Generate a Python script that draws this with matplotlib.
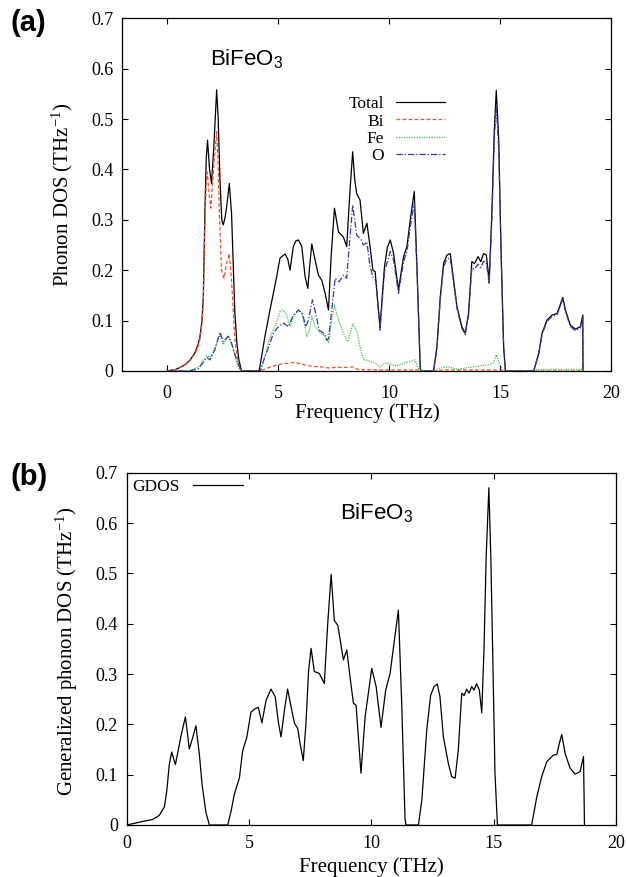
import matplotlib
matplotlib.use("Agg")
import matplotlib.pyplot as plt

# ---------------------------------------------------------------- data
# (a) projected phonon DOS of BiFeO3: frequency (THz) / DOS (1/THz)
total_f = [0.0, 0.4, 0.81, 1.05, 1.26, 1.4, 1.49, 1.58, 1.64, 1.71, 1.77, 1.83, 1.92, 2.01,
           2.12, 2.24, 2.31, 2.39, 2.47, 2.54, 2.62, 2.69, 2.81, 2.91, 2.98, 3.06, 3.15, 3.24,
           3.36, 4.15, 4.26, 4.41, 4.64, 4.79, 4.94, 5.09, 5.2, 5.32, 5.44, 5.54, 5.69, 5.8,
           5.92, 6.07, 6.22, 6.34, 6.43, 6.52, 6.67, 6.82, 6.97, 7.12, 7.27, 7.39, 7.54, 7.72,
           7.94, 8.09, 8.24, 8.36, 8.45, 8.54, 8.69, 8.84, 9.0, 9.14, 9.27, 9.37, 9.48, 9.59,
           9.79, 9.92, 10.05, 10.2, 10.42, 10.65, 10.8, 10.95, 11.13, 11.25, 11.4, 11.45, 12.0,
           12.15, 12.3, 12.45, 12.6, 12.75, 12.9, 13.05, 13.27, 13.42, 13.57, 13.72, 13.84,
           14.0, 14.12, 14.25, 14.37, 14.5, 14.62, 14.73, 14.82, 14.93, 15.03, 15.15, 15.23,
           16.5, 16.73, 16.88, 17.1, 17.33, 17.55, 17.67, 17.81, 17.93, 18.15, 18.38, 18.6,
           18.71, 18.72]
total_dos = [0.0, 0.003, 0.012, 0.022, 0.036, 0.052, 0.068, 0.1, 0.147, 0.313, 0.42, 0.458,
             0.40, 0.372, 0.45, 0.558, 0.50, 0.379, 0.30, 0.29, 0.305, 0.326, 0.372, 0.313,
             0.22, 0.115, 0.055, 0.022, 0.0, 0.0, 0.028, 0.068, 0.121, 0.154, 0.187, 0.224,
             0.228, 0.232, 0.222, 0.2, 0.247, 0.258, 0.26, 0.247, 0.187, 0.164, 0.21, 0.252,
             0.22, 0.19, 0.18, 0.154, 0.121, 0.227, 0.323, 0.276, 0.266, 0.247, 0.359, 0.435,
             0.38, 0.352, 0.339, 0.273, 0.293, 0.247, 0.2, 0.197, 0.14, 0.088, 0.207, 0.245,
             0.26, 0.233, 0.161, 0.227, 0.247, 0.3, 0.356, 0.207, 0.005, 0.0, 0.0, 0.048, 0.147,
             0.214, 0.23, 0.233, 0.18, 0.128, 0.088, 0.075, 0.114, 0.217, 0.213, 0.227, 0.217,
             0.233, 0.23, 0.18, 0.313, 0.478, 0.557, 0.458, 0.247, 0.048, 0.0, 0.0, 0.035,
             0.075, 0.101, 0.111, 0.114, 0.128, 0.146, 0.121, 0.091, 0.083, 0.088, 0.111, 0.0]

bi_f = [0.0, 0.4, 0.81, 1.05, 1.26, 1.4, 1.49, 1.58, 1.64, 1.71, 1.77, 1.82, 1.9, 1.98, 2.1,
        2.24, 2.3, 2.36, 2.46, 2.57, 2.69, 2.81, 2.91, 3.06, 3.24, 3.36, 4.2, 4.71, 5.17, 5.77,
        6.22, 6.52, 6.97, 7.27, 7.6, 8.0, 8.39, 8.6, 9.5, 11.3, 11.4, 12.0, 12.5, 15.0, 15.2,
        16.5, 18.72]
bi_dos = [0.0, 0.003, 0.012, 0.021, 0.034, 0.048, 0.063, 0.093, 0.135, 0.29, 0.37, 0.395,
          0.35, 0.323, 0.40, 0.475, 0.42, 0.313, 0.2, 0.184, 0.214, 0.233, 0.18, 0.061, 0.007,
          0.0, 0.0, 0.009, 0.014, 0.017, 0.012, 0.009, 0.008, 0.006, 0.007, 0.007, 0.008,
          0.003, 0.002, 0.002, 0.0, 0.0, 0.002, 0.002, 0.0, 0.0, 0.0]

fe_f = [0.0, 1.0, 1.41, 1.64, 1.79, 1.94, 2.09, 2.24, 2.39, 2.54, 2.69, 2.81, 2.99, 3.21,
        3.36, 4.2, 4.41, 4.56, 4.71, 4.94, 5.09, 5.24, 5.39, 5.54, 5.69, 5.92, 6.07, 6.22,
        6.29, 6.41, 6.52, 6.67, 6.9, 7.12, 7.27, 7.42, 7.54, 7.72, 7.94, 8.14, 8.36, 8.54,
        8.69, 8.84, 9.14, 9.37, 9.59, 9.82, 10.05, 10.35, 10.65, 10.95, 11.15, 11.33, 11.45,
        12.05, 12.23, 12.68, 13.12, 13.57, 14.03, 14.48, 14.7, 14.82, 14.96, 15.1, 16.5,
        16.8, 18.7, 18.72]
fe_dos = [0.0, 0.001, 0.007, 0.022, 0.03, 0.027, 0.038, 0.055, 0.071, 0.052, 0.065, 0.068,
          0.042, 0.007, 0.0, 0.0, 0.028, 0.055, 0.075, 0.095, 0.118, 0.121, 0.111, 0.088,
          0.108, 0.121, 0.114, 0.088, 0.068, 0.081, 0.108, 0.088, 0.075, 0.071, 0.055, 0.101,
          0.131, 0.101, 0.075, 0.058, 0.093, 0.081, 0.048, 0.023, 0.019, 0.016, 0.008, 0.016,
          0.013, 0.01, 0.016, 0.019, 0.022, 0.003, 0.0, 0.0, 0.005, 0.008, 0.003, 0.007, 0.01,
          0.012, 0.017, 0.032, 0.015, 0.0, 0.0, 0.003, 0.003, 0.0]

o_f = [0.0, 1.0, 1.41, 1.64, 1.79, 1.94, 2.16, 2.39, 2.54, 2.76, 2.91, 3.14, 3.36, 4.2, 4.41,
       4.64, 4.79, 5.02, 5.24, 5.47, 5.69, 5.92, 6.1, 6.25, 6.37, 6.55, 6.7, 6.85, 7.05, 7.2,
       7.27, 7.42, 7.57, 7.75, 7.94, 8.09, 8.24, 8.36, 8.54, 8.74, 8.84, 9.0, 9.14, 9.29, 9.4,
       9.59, 9.79, 10.05, 10.2, 10.42, 10.65, 10.8, 10.95, 11.13, 11.25, 11.4, 11.45, 12.0,
       12.15, 12.3, 12.45, 12.6, 12.75, 12.9, 13.05, 13.27, 13.42, 13.57, 13.72, 13.84, 14.0,
       14.12, 14.25, 14.37, 14.5, 14.62, 14.73, 14.82, 14.93, 15.03, 15.15, 15.23, 16.5,
       16.73, 16.88, 17.1, 17.33, 17.55, 17.67, 17.81, 17.93, 18.15, 18.38, 18.6, 18.71, 18.72]
o_dos = [0.0, 0.0, 0.004, 0.017, 0.027, 0.022, 0.042, 0.077, 0.058, 0.069, 0.055, 0.022, 0.0,
         0.0, 0.028, 0.055, 0.075, 0.088, 0.095, 0.088, 0.111, 0.121, 0.114, 0.088, 0.101,
         0.141, 0.114, 0.081, 0.075, 0.061, 0.064, 0.121, 0.184, 0.177, 0.19, 0.184, 0.266,
         0.329, 0.27, 0.26, 0.25, 0.256, 0.207, 0.184, 0.18, 0.081, 0.197, 0.237, 0.22, 0.154,
         0.217, 0.237, 0.286, 0.333, 0.2, 0.004, 0.0, 0.0, 0.045, 0.142, 0.207, 0.222, 0.224,
         0.175, 0.124, 0.085, 0.072, 0.11, 0.205, 0.202, 0.212, 0.205, 0.218, 0.215, 0.172,
         0.30, 0.46, 0.524, 0.44, 0.24, 0.046, 0.0, 0.0, 0.034, 0.073, 0.098, 0.108, 0.111,
         0.125, 0.143, 0.118, 0.088, 0.08, 0.085, 0.108, 0.0]

# (b) neutron-weighted generalized phonon DOS
gdos_f = [0.0, 0.65, 1.06, 1.33, 1.54, 1.64, 1.74, 1.84, 1.99, 2.13, 2.22, 2.4, 2.56, 2.7,
          2.83, 2.97, 3.08, 3.24, 3.38, 4.13, 4.27, 4.4, 4.61, 4.74, 4.91, 5.08, 5.22, 5.38,
          5.53, 5.7, 5.9, 6.07, 6.21, 6.31, 6.45, 6.58, 6.72, 6.86, 6.99, 7.09, 7.22, 7.33,
          7.44, 7.54, 7.67, 7.88, 8.08, 8.22, 8.36, 8.49, 8.63, 8.72, 8.86, 9.0, 9.13, 9.27,
          9.38, 9.58, 9.75, 10.02, 10.2, 10.4, 10.59, 10.77, 10.95, 11.11, 11.25, 11.38, 11.42,
          11.93, 12.07, 12.27, 12.43, 12.57, 12.7, 12.81, 12.95, 13.15, 13.29, 13.43, 13.56,
          13.7, 13.8, 13.9, 14.0, 14.11, 14.2, 14.31, 14.42, 14.52, 14.61, 14.7, 14.81, 14.89,
          14.97, 15.06, 15.16, 16.56, 16.77, 16.97, 17.18, 17.45, 17.59, 17.69, 17.79, 17.93,
          18.13, 18.34, 18.54, 18.68, 18.72]
gdos = [0.0, 0.007, 0.011, 0.019, 0.036, 0.068, 0.12, 0.145, 0.12, 0.154, 0.177, 0.215, 0.151,
        0.174, 0.197, 0.141, 0.081, 0.025, 0.0, 0.0, 0.028, 0.061, 0.094, 0.147, 0.174, 0.224,
        0.23, 0.234, 0.203, 0.248, 0.27, 0.255, 0.202, 0.175, 0.228, 0.27, 0.235, 0.202,
        0.192, 0.162, 0.128, 0.202, 0.308, 0.351, 0.305, 0.301, 0.281, 0.4, 0.498, 0.406,
        0.397, 0.371, 0.328, 0.348, 0.295, 0.242, 0.238, 0.103, 0.215, 0.311, 0.275, 0.194,
        0.268, 0.301, 0.368, 0.427, 0.235, 0.013, 0.0, 0.0, 0.05, 0.189, 0.258, 0.275, 0.28,
        0.255, 0.175, 0.123, 0.096, 0.093, 0.149, 0.262, 0.257, 0.27, 0.262, 0.275, 0.268,
        0.281, 0.268, 0.223, 0.348, 0.533, 0.67, 0.533, 0.334, 0.103, 0.0, 0.0, 0.056, 0.096,
        0.126, 0.139, 0.14, 0.162, 0.18, 0.142, 0.113, 0.101, 0.106, 0.136, 0.0]

x_ticks = [0, 5, 10, 15, 20]
x_tick_labels = ["0", "5", "10", "15", "20"]
y_ticks = [0, 0.1, 0.2, 0.3, 0.4, 0.5, 0.6, 0.7]
y_tick_labels = ["0", "0.1", "0.2", "0.3", "0.4", "0.5", "0.6", "0.7"]

# ---------------------------------------------------------------- style
plt.rcParams["font.family"] = ["Liberation Serif", "DejaVu Serif"]
plt.rcParams["mathtext.fontset"] = "custom"
plt.rcParams["mathtext.rm"] = "Liberation Serif"
plt.rcParams["mathtext.it"] = "Liberation Serif:italic"
plt.rcParams["mathtext.sf"] = "Liberation Sans"

SANS = ["Liberation Sans", "DejaVu Sans"]
C_BI = "#f0502a"
C_FE = "#3cbf4a"
C_O = "#3538a8"

fig = plt.figure(figsize=(6.27, 8.77), dpi=100)
ax_a = fig.add_axes([0.1952, 0.577, 0.780, 0.4022])
ax_b = fig.add_axes([0.2021, 0.0593, 0.780, 0.4017])


def style_axes(ax, xlim, xpad, ypad):
    ax.set_xlim(*xlim)
    ax.set_ylim(0, 0.7)
    ax.set_xticks(x_ticks)
    ax.set_xticklabels(x_tick_labels)
    ax.set_yticks(y_ticks)
    ax.set_yticklabels(y_tick_labels)
    ax.tick_params(direction="in", top=True, right=True, length=4.5, width=0.8,
                   labelsize=13)
    ax.tick_params(axis="x", pad=xpad)
    ax.tick_params(axis="y", pad=ypad)
    for s in ax.spines.values():
        s.set_linewidth(0.9)


# ---------------------------------------------------------------- panel (a)
ax_a.plot(total_f, total_dos, color="black", lw=0.9, label="Total")
ax_a.plot(bi_f, bi_dos, color=C_BI, lw=0.9, ls=(0, (3, 1.8)), label="Bi")
ax_a.plot(fe_f, fe_dos, color=C_FE, lw=0.9, ls=(0, (1, 1)), label="Fe")
ax_a.plot(o_f, o_dos, color=C_O, lw=0.9, ls=(0, (5, 1.6, 1, 1.6)), label="O")
style_axes(ax_a, (-2, 20), xpad=10, ypad=6.5)
ax_a.set_xlabel("Frequency (THz)", fontsize=15)
ax_a.xaxis.set_label_coords(0.5, -0.092)
ax_a.set_ylabel("Phonon DOS (THz$^{-1}$)", fontsize=15)
ax_a.yaxis.set_label_coords(-0.097, 0.5)
ax_a.text(0.179, 0.8676, r"BiFeO$_\mathsf{3}$", transform=ax_a.transAxes,
          family=SANS, fontsize=16, va="baseline", ha="left")

# label first, sample line after it; rows are right-aligned by the legend itself
ax_a.legend(loc="upper right", bbox_to_anchor=(0.6596, 0.779), frameon=False,
            markerfirst=False, fontsize=12.5, handlelength=2.8, handletextpad=0.7,
            labelspacing=0.06, borderpad=0, borderaxespad=0)

# ---------------------------------------------------------------- panel (b)
ax_b.plot(gdos_f, gdos, color="black", lw=0.9, label="GDOS")
style_axes(ax_b, (0, 20), xpad=7.2, ypad=6.3)
ax_b.set_xlabel("Frequency (THz)", fontsize=15)
ax_b.xaxis.set_label_coords(0.5, -0.091)
ax_b.set_ylabel("Generalized phonon DOS (THz$^{-1}$)", fontsize=15)
ax_b.yaxis.set_label_coords(-0.0955, 0.494)
ax_b.text(0.436, 0.8677, r"BiFeO$_\mathsf{3}$", transform=ax_b.transAxes,
          family=SANS, fontsize=16, va="baseline", ha="left")
ax_b.legend(loc="upper left", bbox_to_anchor=(0.011, 0.982), frameon=False,
            markerfirst=False, fontsize=12.5, handlelength=2.9, handletextpad=0.75,
            borderpad=0, borderaxespad=0)

# panel letters
fig.text(0.016, 1 - 23 / 877, "(a)", family=SANS, fontsize=21, fontweight="bold",
         va="center", ha="left")
fig.text(0.016, 1 - 477 / 877, "(b)", family=SANS, fontsize=21, fontweight="bold",
         va="center", ha="left")

fig.savefig("out.png", dpi=100)
